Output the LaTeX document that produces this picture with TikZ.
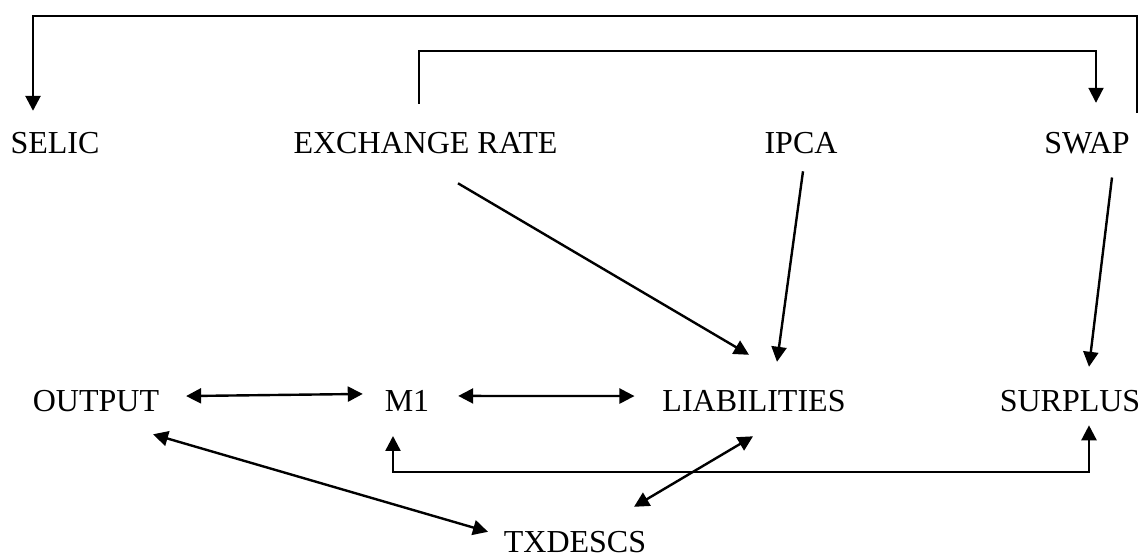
\documentclass[tikz,border=0pt]{standalone}
\usepackage{fontspec}
\setmainfont{Liberation Serif}
\usetikzlibrary{arrows.meta,calc,positioning}

\begin{document}
\begin{tikzpicture}[
        x=1pt, y=1pt,
        >={Triangle[length=15pt,width=15pt]},
        var/.style={inner sep=0pt, outer sep=0pt, anchor=base, font=\fontsize{32}{36}\selectfont},
        link/.style={line width=2.4pt, ->},
        both link/.style={line width=2.4pt, <->},
        outer loop/.style={line width=2.6pt, ->},
        inner loop/.style={line width=1.9pt, ->}
    ]
    \useasboundingbox (0,0) rectangle (1143,559);
    % top row
    \node[var] (selic) at (55,405) {SELIC};
    \node[var] (exch) at (425.5,405) {EXCHANGE RATE};
    \node[var] (ipca) at (801,405) {IPCA};
    \node[var] (swap) at (1087,405) {SWAP};
    % bottom row
    \node[var] (output) at (96,147) {OUTPUT};
    \node[var] (mone) at (407,147) {M1};
    \node[var] (liab) at (754,147) {LIABILITIES};
    \node[var] (surplus) at (1070,147) {SURPLUS};
    \node[var] (txdescs) at (575,6) {TXDESCS};

    % loops over the top
    \draw[outer loop] ([xshift=50pt,yshift=20pt]swap.north) -- ++(0,97)
        -| ([xshift=-22pt,yshift=22pt]selic.north);
    \draw[inner loop] ([xshift=-6.5pt,yshift=29pt]exch.north) -- ++(0,53)
        -| ([xshift=9pt,yshift=30pt]swap.north);

    % into the bottom row
    \draw[link] ([xshift=32.5pt,yshift=-29pt]exch.south) -- ([xshift=-5pt,yshift=36pt]liab.north);
    \draw[link] ([xshift=2pt,yshift=-17pt]ipca.south) -- ([xshift=23pt,yshift=29pt]liab.north);
    \draw[link] ([xshift=25pt,yshift=-23pt]swap.south) -- ([xshift=19pt,yshift=24pt]surplus.north);

    % two-way links
    \draw[both link] ([xshift=27pt,yshift=5.5pt]output.east) -- ([xshift=-22pt,yshift=7.5pt]mone.west);
    \draw[both link] ([xshift=29pt,yshift=5.5pt]mone.east) -- ([xshift=-28pt,yshift=5.5pt]liab.west);
    \draw[both link] ([xshift=-14pt,yshift=-24pt]mone.south) -- ++(0,-36)
        -| ([xshift=19pt,yshift=-13pt]surplus.south);
    \draw[both link] ([xshift=-1pt,yshift=-24pt]liab.south) -- ([xshift=59pt,yshift=25pt]txdescs.north);
    \draw[both link] ([xshift=57pt,yshift=-22pt]output.south) -- ([xshift=-87pt,yshift=0pt]txdescs.north);
\end{tikzpicture}
\end{document}
